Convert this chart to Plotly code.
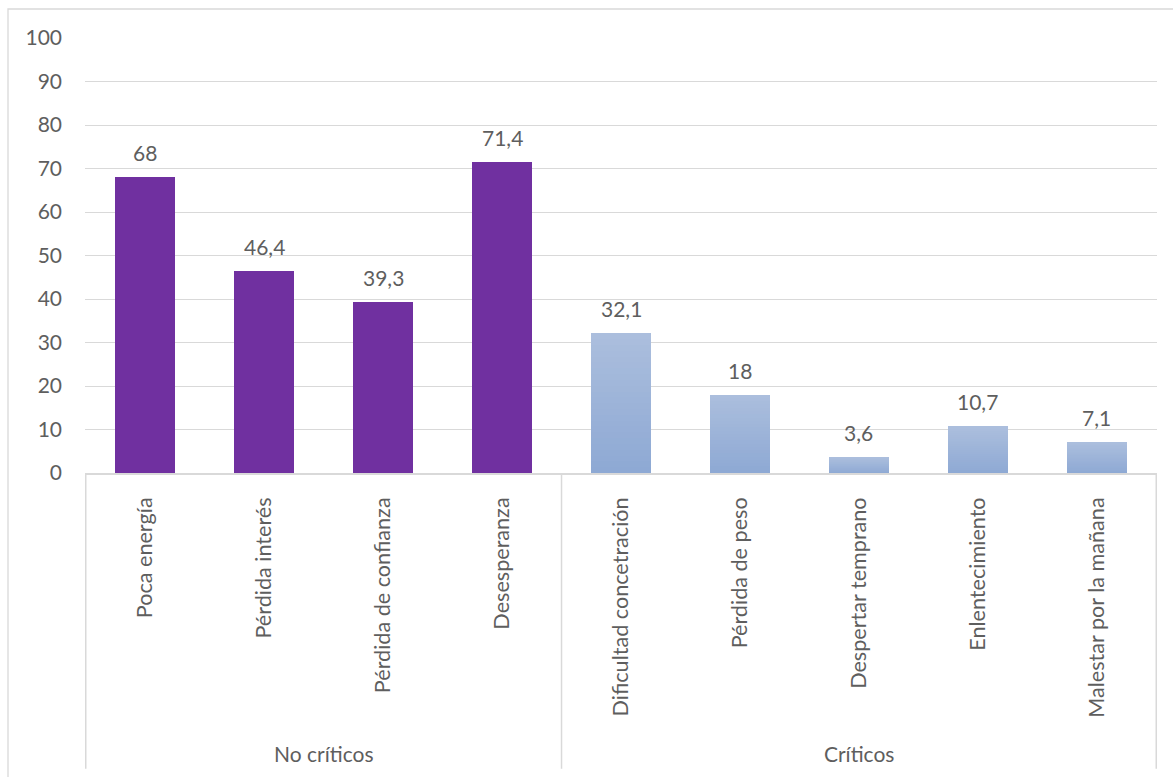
import plotly.graph_objects as go

# Symptom categories, their group and the percentage for each
categories = [
    "Poca energía", "Pérdida interés", "Pérdida de confianza", "Desesperanza",
    "Dificultad concetración", "Pérdida de peso", "Despertar temprano",
    "Enlentecimiento", "Malestar por la mañana",
]
groups = ["No críticos"] * 4 + ["Críticos"] * 5
values = [68, 46.4, 39.3, 71.4, 32.1, 18, 3.6, 10.7, 7.1]

group_names = ["No críticos", "Críticos"]
y_ticks = list(range(0, 101, 10))

PURPLE = "#7030A0"
BLUE_TOP = (171, 190, 221)
BLUE_BOTTOM = (142, 169, 212)
GRID = "#D9D9D9"
TEXT = "#5E5E5E"
FONT = "Lato"


def fmt(v):
    return f"{v:g}".replace(".", ",")


fig = go.Figure()

# Solid purple bars for the first group
fig.add_trace(go.Bar(
    x=categories,
    y=[v if g == group_names[0] else None for v, g in zip(values, groups)],
    marker=dict(color=PURPLE, line=dict(width=0)),
    hovertemplate="%{x}: %{y}<extra></extra>",
))

# Second group: each bar is built from thin stacked slices so it fades
# from a lighter blue at the top to a deeper blue at the base
N_SLICES = 24
for k in range(N_SLICES):
    t = k / (N_SLICES - 1)
    rgb = tuple(round(b + (a - b) * t) for a, b in zip(BLUE_TOP, BLUE_BOTTOM))
    fig.add_trace(go.Bar(
        x=categories,
        y=[v / N_SLICES if g == group_names[1] else None for v, g in zip(values, groups)],
        marker=dict(color="rgb(%d,%d,%d)" % rgb, line=dict(width=0)),
        hoverinfo="skip",
    ))

# Value labels above each bar
for c, v in zip(categories, values):
    fig.add_annotation(
        x=c, y=v, xref="x", yref="y", text=fmt(v), showarrow=False,
        yanchor="bottom", yshift=10,
        font=dict(family=FONT, size=21, color=TEXT),
    )

# Group dividers below the category axis and the group captions
idx = {g: [i for i, gg in enumerate(groups) if gg == g] for g in group_names}
bounds = [-0.5] + [max(idx[g]) + 0.5 for g in group_names]
for b in bounds:
    fig.add_shape(
        type="line", xref="x", yref="paper", x0=b, x1=b, y0=0, y1=-0.68,
        line=dict(color=GRID, width=1.5),
    )
for g in group_names:
    mid = (min(idx[g]) + max(idx[g])) / 2
    fig.add_annotation(
        x=mid, y=-0.644, xref="x", yref="paper", text=g, showarrow=False,
        yanchor="middle", font=dict(family=FONT, size=21, color=TEXT),
    )

# Chart frame
fig.add_shape(
    type="rect", xref="paper", yref="paper",
    x0=(8 - 85) / 1072, x1=(1190 - 85) / 1072,
    y0=1 + (38 - 9) / 435, y1=(473 - 800) / 435,
    line=dict(color=GRID, width=1.3), fillcolor="rgba(0,0,0,0)", layer="below",
)

fig.update_layout(
    width=1173, height=777,
    margin=dict(l=85, r=16, t=38, b=304, pad=0),
    barmode="stack", bargap=0.496,
    showlegend=False,
    paper_bgcolor="white", plot_bgcolor="white",
    font=dict(family=FONT, size=21, color=TEXT),
    xaxis=dict(
        type="category", tickangle=-90, showgrid=False, zeroline=False,
        showline=True, linecolor=GRID, linewidth=1.5, ticks="",
        ticklabelstandoff=14, tickfont=dict(family=FONT, size=21.6, color=TEXT),
        fixedrange=True,
    ),
    yaxis=dict(
        range=[0, 100], tickvals=y_ticks, showgrid=True, gridcolor=GRID,
        gridwidth=1.3, zeroline=False, showline=False, ticks="",
        ticklabelstandoff=22, tickfont=dict(family=FONT, size=21, color=TEXT),
        fixedrange=True,
    ),
)

fig.write_html("out.html")
